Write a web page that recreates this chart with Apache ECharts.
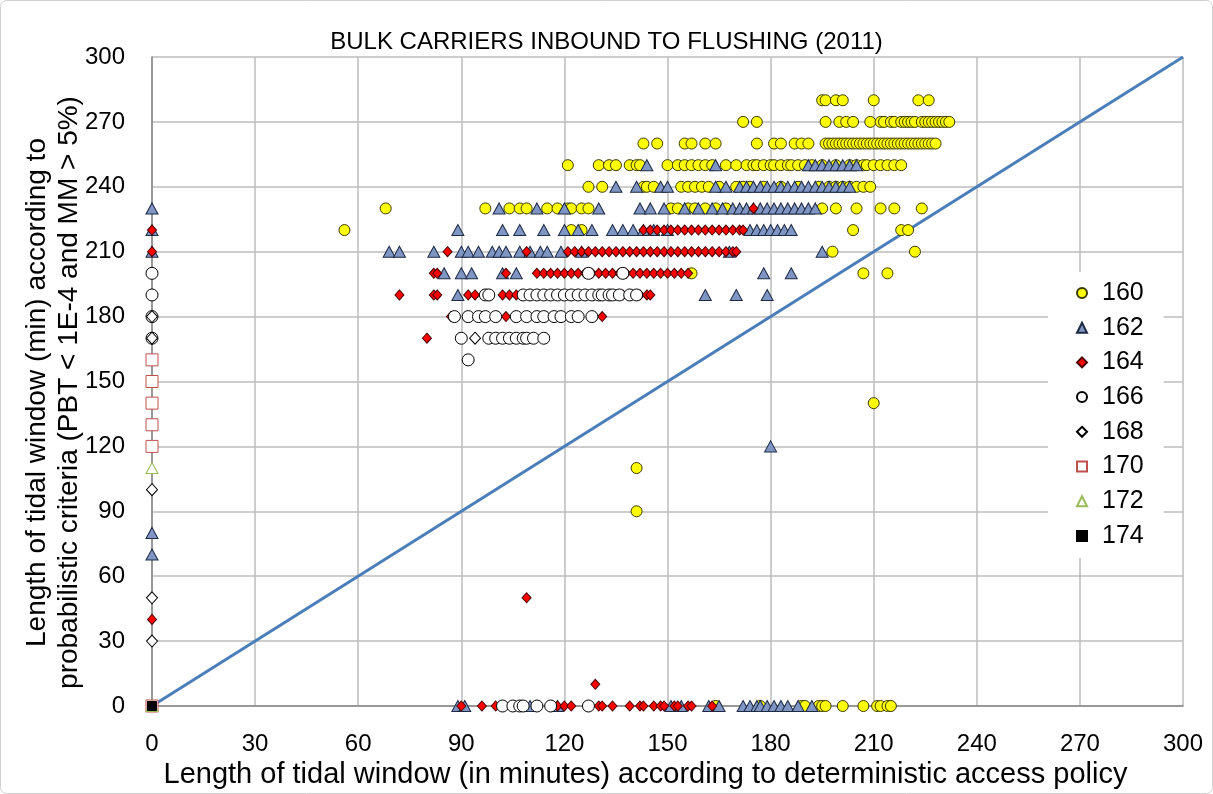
<!DOCTYPE html>
<html>
<head>
<meta charset="utf-8">
<script src="https://cdn.jsdelivr.net/npm/echarts@6.0.0/dist/echarts.min.js"></script>
<style>
  html, body { margin: 0; padding: 0; background: #fff; }
  #chart { width: 1213px; height: 794px; }
</style>
</head>
<body>
<div id="chart"></div>
<script>
// rows: [y, [x, x, ...]]  (minutes)
const s160 = [
  [280, [195, 196, 199, 201, 210, 223, 226]],
  [270, [172, 176, 196, 200, 202, 204, 209, 212, 213, 215, 216, 218, 219, 220, 221, 222, 224, 225, 226, 227, 228, 229, 230, 231, 232]],
  [260, [143, 147, 155, 157, 161, 164, 176, 181, 183, 187, 189, 191, 196, 197, 198, 199, 200, 201, 202, 203, 204, 205, 206, 207, 208, 209, 210, 211, 212, 213, 214, 215, 216, 217, 218, 219, 220, 221, 222, 223, 224, 225, 226, 227, 228]],
  [250, [121, 130, 133, 135, 139, 141, 142, 150, 153, 155, 157, 159, 161, 163, 167, 170, 173, 175, 176, 178, 180, 181, 183, 185, 186, 188, 190, 192, 195, 199, 203, 205, 207, 208, 210, 212, 214, 216, 218]],
  [240, [127, 131, 143, 144, 146, 154, 156, 158, 160, 162, 165, 170, 172, 174, 178, 183, 188, 194, 197, 199, 201, 203, 205, 207, 209]],
  [230, [68, 97, 104, 107, 109, 115, 118, 121, 122, 125, 127, 151, 153, 156, 158, 161, 164, 167, 195, 199, 205, 212, 216, 224]],
  [220, [56, 122, 125, 204, 218, 220]],
  [210, [198, 222]],
  [200, [157, 207, 214]],
  [140, [210]],
  [110, [141]],
  [90, [141]],
  [0, [164, 177, 189, 190, 194, 195, 196, 201, 207, 211, 212, 214, 215]]
];
const s162 = [
  [250, [144, 164, 191, 193, 195, 197, 199, 201, 203, 205]],
  [240, [135, 141, 148, 150, 164, 167, 171, 173, 175, 177, 179, 181, 183, 185, 187, 189, 191, 193, 195, 197, 199, 201, 203]],
  [230, [0, 101, 112, 120, 130, 142, 145, 149, 155, 159, 163, 166, 169, 171, 173, 175, 177, 179, 181, 183, 185, 187, 189, 191, 193]],
  [220, [0, 89, 102, 107, 114, 120, 124, 128, 134, 137, 140, 143, 146, 150, 174, 176, 178, 180, 182, 184, 186]],
  [210, [0, 69, 72, 82, 90, 92, 95, 99, 101, 103, 107, 110, 113, 115, 119, 125, 168, 195]],
  [200, [85, 90, 93, 102, 106, 178, 186]],
  [190, [89, 161, 170, 179]],
  [120, [180]],
  [80, [0]],
  [70, [0]],
  [0, [89, 91, 110, 118, 151, 154, 162, 165, 172, 174, 176, 177, 179, 181, 183, 185, 188, 192]]
];
const s164 = [
  [230, [175]],
  [220, [0, 143, 145, 147, 149, 151, 153, 155, 157, 159, 161, 163, 165, 167, 169, 171, 172]],
  [210, [0, 86, 109, 121, 123, 125, 127, 129, 131, 133, 135, 137, 139, 141, 143, 145, 147, 149, 151, 153, 155, 157, 159, 161, 163, 165, 167, 169, 170]],
  [200, [82, 83, 103, 112, 114, 116, 118, 120, 122, 124, 126, 128, 130, 132, 134, 136, 138, 140, 142, 144, 146, 148, 150, 152, 154, 156]],
  [190, [72, 82, 83, 92, 94, 102, 104, 106, 135, 137, 139, 141, 142, 144, 145]],
  [180, [87, 103, 131]],
  [170, [80]],
  [50, [109]],
  [40, [0]],
  [10, [129]],
  [0, [90, 96, 100, 118, 120, 122, 130, 131, 134, 139, 142, 143, 146, 148, 149, 152, 153, 156, 157, 163]]
];
const s166 = [
  [200, [0, 127, 137]],
  [190, [0, 97, 98, 108, 110, 112, 114, 116, 118, 120, 122, 124, 126, 128, 130, 131, 133, 134, 136, 139, 141]],
  [180, [0, 88, 92, 95, 97, 100, 106, 109, 112, 114, 117, 119, 122, 124, 128]],
  [170, [0, 90, 98, 100, 102, 104, 106, 108, 109, 111, 114]],
  [160, [92]],
  [0, [102, 105, 107, 108, 112, 116, 127]]
];
const s168 = [[180, [0]], [170, [0, 94]], [100, [0]], [50, [0]], [30, [0]]];
const s170 = [[160, [0]], [150, [0]], [140, [0]], [130, [0]], [120, [0]], [0, [0]]];
const s172 = [[110, [0]], [0, [0]]];
const s174 = [[0, [0]]];

const names = ['160', '162', '164', '166', '168', '170', '172', '174'];
const axisTicks = [0, 30, 60, 90, 120, 150, 180, 210, 240, 270, 300];
const diagonal = [[0, 0], [300, 300]];

function points(rows) {
  const out = [];
  rows.forEach(([y, xs]) => xs.forEach(x => out.push([x, y])));
  return out;
}

const styles = [
  { rows: s160, symbol: 'circle', size: 11, fill: '#ffff00', stroke: '#3a3a00' },
  { rows: s162, symbol: 'triangle', size: [12, 11], fill: '#7f96c4', stroke: '#1e2a44' },
  { rows: s164, symbol: 'diamond', size: [9, 10], fill: '#ff0000', stroke: '#4a0000' },
  { rows: s166, symbol: 'circle', size: 12, fill: '#ffffff', stroke: '#000000' },
  { rows: s168, symbol: 'diamond', size: [11, 12], fill: '#ffffff', stroke: '#000000' },
  { rows: s170, symbol: 'rect', size: 12, fill: '#ffffff', stroke: '#c0504d' },
  { rows: s172, symbol: 'triangle', size: [12, 11], fill: '#ffffff', stroke: '#9bbb59' },
  { rows: s174, symbol: 'rect', size: 9, fill: '#000000', stroke: '#000000' }
];

const font = 'Liberation Sans, Arial, sans-serif';
const chart = echarts.init(document.getElementById('chart'));

const series = [{
  type: 'line',
  name: 'diag',
  data: diagonal,
  showSymbol: false,
  silent: true,
  lineStyle: { color: '#4a7ebb', width: 3 },
  z: 1
}];
styles.forEach((s, i) => {
  series.push({
    type: 'scatter',
    name: names[i],
    data: points(s.rows),
    symbol: s.symbol,
    symbolSize: s.size,
    itemStyle: { color: s.fill, borderColor: s.stroke, borderWidth: 1, opacity: 1 },
    z: 2
  });
});

const axisCommon = {
  type: 'value',
  min: axisTicks[0],
  max: axisTicks[axisTicks.length - 1],
  interval: 30,
  axisLine: { show: true, onZero: false, lineStyle: { color: '#868686', width: 1.5 } },
  axisTick: { show: false },
  splitLine: { show: true, lineStyle: { color: '#bcbcbc', width: 1.5 } },
  axisLabel: { fontFamily: font, fontSize: 24, color: '#000' },
  nameLocation: 'middle',
  nameMoveOverlap: false,
  nameTextStyle: { fontFamily: font, fontSize: 28, color: '#000' }
};

chart.setOption({
  animation: false,
  backgroundColor: '#fff',
  title: {
    text: 'BULK CARRIERS INBOUND TO FLUSHING (2011)',
    left: 'center',
    top: 25,
    textStyle: { fontFamily: font, fontSize: 24, fontWeight: 'normal', color: '#000' }
  },
  grid: { left: 152, right: 30, top: 57, bottom: 87 },
  xAxis: Object.assign({}, axisCommon, {
    name: 'Length of tidal window (in minutes) according to deterministic access policy',
    nameGap: 54,
    nameTextStyle: Object.assign({}, axisCommon.nameTextStyle, { fontSize: 29, padding: [0, 44, 0, 0] }),
    axisLabel: Object.assign({}, axisCommon.axisLabel, { margin: 26 })
  }),
  yAxis: Object.assign({}, axisCommon, {
    name: 'Length of tidal window (min) according to\nprobabilistic criteria (PBT < 1E-4 and MM > 5%)',
    nameGap: 67,
    nameTextStyle: Object.assign({}, axisCommon.nameTextStyle, { lineHeight: 32, padding: [0, 22, 0, 0] }),
    axisLabel: Object.assign({}, axisCommon.axisLabel, { margin: 27 })
  }),
  legend: {
    data: names,
    orient: 'vertical',
    left: 1048,
    top: 272,
    backgroundColor: '#fff',
    padding: [8, 20, 9, 28],
    itemWidth: 10,
    itemHeight: 10,
    itemGap: 8.7,
    textStyle: { fontFamily: font, fontSize: 25, lineHeight: 26, color: '#000', padding: [0, 0, 0, 10] }
  },
  graphic: [{
    type: 'rect',
    shape: { x: 0.5, y: 0.5, width: 1212, height: 793, r: 6 },
    style: { fill: 'none', stroke: '#d0d0d0', lineWidth: 1 },
    silent: true,
    z: 100
  }],
  series: series
});
</script>
</body>
</html>
